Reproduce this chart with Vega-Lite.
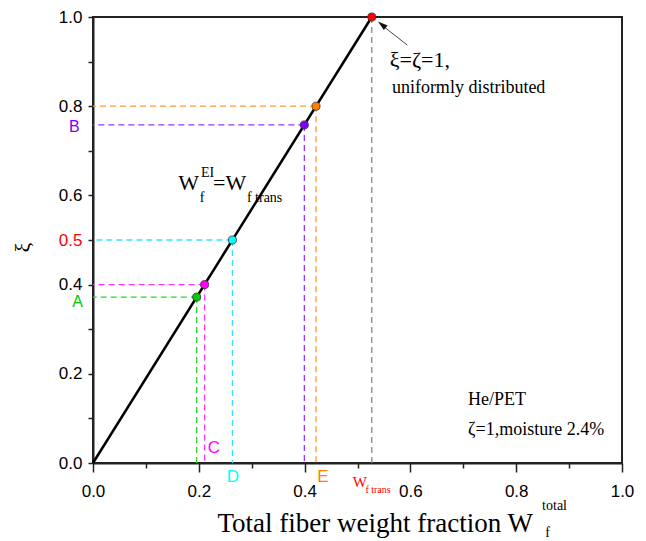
{
  "$schema": "https://vega.github.io/schema/vega-lite/v6.json",
  "width": 529,
  "height": 446,
  "autosize": "none",
  "padding": {"left": 93, "top": 17, "right": 24, "bottom": 78},
  "background": "white",
  "config": {
    "view": {"stroke": "#222", "strokeWidth": 2},
    "axis": {
      "grid": false,
      "domainColor": "#222",
      "domainWidth": 2,
      "tickColor": "#222",
      "tickWidth": 1.5,
      "labelFont": "Liberation Sans",
      "labelFontSize": 17,
      "labelColor": "black",
      "titleFont": "Liberation Serif",
      "titleFontWeight": "normal",
      "titleColor": "black"
    }
  },
  "encoding": {
    "x": {
      "field": "x",
      "type": "quantitative",
      "scale": {"domain": [0, 1], "nice": false, "zero": false},
      "axis": {
        "title": "Total fiber weight fraction W",
        "titleFontSize": 27,
        "titleX": 124,
        "titleY": 68,
        "titleAlign": "left",
        "titleBaseline": "alphabetic",
        "values": [0, 0.1, 0.2, 0.3, 0.4, 0.5, 0.6, 0.7, 0.8, 0.9, 1],
        "labelExpr": "round(datum.value*10) % 2 == 0 ? format(datum.value, '.1f') : ''",
        "tickSize": {"condition": {"test": "round(datum.value*10) % 2 == 0", "value": 9}, "value": 5},
        "labelPadding": 11,
        "labelFlush": false
      }
    },
    "y": {
      "field": "y",
      "type": "quantitative",
      "scale": {"domain": [0, 1], "nice": false, "zero": false},
      "axis": {
        "title": "ξ",
        "titleFontSize": 22,
        "titleX": -71,
        "titleY": 230,
        "titleAngle": 270,
        "titleAlign": "center",
        "titleBaseline": "middle",
        "values": [0, 0.1, 0.2, 0.3, 0.4, 0.5, 0.6, 0.7, 0.8, 0.9, 1],
        "labelExpr": "indexof([0,2,4,5,6,8,10], round(datum.value*10)) >= 0 ? format(datum.value, '.1f') : ''",
        "labelColor": {"condition": {"test": "round(datum.value*10) == 5", "value": "#ff0000"}, "value": "black"},
        "tickSize": 5,
        "labelPadding": 6,
        "labelFlush": false
      }
    }
  },
  "datasets": {
    "pts": [
      {"pt": "A", "x": 0.196, "y": 0.372},
      {"pt": "C", "x": 0.211, "y": 0.4},
      {"pt": "D", "x": 0.2635, "y": 0.5},
      {"pt": "B", "x": 0.3995, "y": 0.758},
      {"pt": "E", "x": 0.4216, "y": 0.8},
      {"pt": "R", "x": 0.527, "y": 1.0}
    ]
  },
  "layer": [
    {
      "data": {"name": "pts"},
      "transform": [{"filter": "datum.pt != 'R'"}],
      "mark": {"type": "rule", "strokeDash": [6, 4], "strokeWidth": 1.3},
      "encoding": {
        "x2": {"datum": 0},
        "stroke": {"field": "pt", "type": "nominal", "legend": null,
          "scale": {"domain": ["A", "C", "D", "B", "E", "R"], "range": ["#22dd22", "#ff33ff", "#33e5ff", "#9933ff", "#ff9933", "#888888"]}}
      }
    },
    {
      "data": {"name": "pts"},
      "mark": {"type": "rule", "strokeDash": [6, 4], "strokeWidth": 1.3},
      "encoding": {
        "y2": {"datum": 0},
        "stroke": {"field": "pt", "type": "nominal", "legend": null,
          "scale": {"domain": ["A", "C", "D", "B", "E", "R"], "range": ["#22dd22", "#ff33ff", "#33e5ff", "#9933ff", "#ff9933", "#888888"]}}
      }
    },
    {
      "data": {"values": [{"x": 0, "y": 0}, {"x": 0.527, "y": 1.0}]},
      "mark": {"type": "line", "color": "black", "strokeWidth": 2.5},
      "encoding": {}
    },
    {
      "data": {"values": [{"x": 0.594, "y": 0.937, "x2": 0.546, "y2": 0.982}]},
      "mark": {"type": "rule", "color": "#444", "strokeWidth": 1},
      "encoding": {"x2": {"field": "x2"}, "y2": {"field": "y2"}}
    },
    {
      "data": {"values": [{"x": 0.546, "y": 0.983}]},
      "mark": {"type": "point", "shape": "M0,-1L0.6,1L-0.6,1Z", "filled": true, "color": "#111", "size": 100, "angle": -51, "opacity": 1},
      "encoding": {}
    },
    {
      "data": {"name": "pts"},
      "mark": {"type": "point", "filled": true, "size": 65, "stroke": "#333", "strokeWidth": 0.8, "opacity": 1},
      "encoding": {
        "fill": {"field": "pt", "type": "nominal", "legend": null,
          "scale": {"domain": ["A", "C", "D", "B", "E", "R"], "range": ["#00cc00", "#ff00ff", "#00ffff", "#7f00ff", "#ff8000", "#ff0000"]}}
      }
    },
    {
      "data": {"values": [
        {"x": 0.561, "y": 0.888, "text": "ξ=ζ=1,"},
        {"x": 0.161, "y": 0.612, "text": "W"},
        {"x": 0.227, "y": 0.612, "text": "=W"}
      ]},
      "mark": {"type": "text", "font": "Liberation Serif", "fontSize": 22, "align": "left", "baseline": "alphabetic", "color": "black"},
      "encoding": {"text": {"field": "text"}}
    },
    {
      "data": {"values": [
        {"x": 0.565, "y": 0.83, "text": "uniformly distributed"},
        {"x": 0.709, "y": 0.13, "text": "He/PET"},
        {"x": 0.709, "y": 0.063, "text": "ζ=1,moisture 2.4%"}
      ]},
      "mark": {"type": "text", "font": "Liberation Serif", "fontSize": 18, "align": "left", "baseline": "alphabetic", "color": "black"},
      "encoding": {"text": {"field": "text"}}
    },
    {
      "data": {"values": [
        {"x": 0.202, "y": 0.585, "text": "f"},
        {"x": 0.204, "y": 0.641, "text": "EI"},
        {"x": 0.291, "y": 0.585, "text": "f trans"},
        {"x": 0.849, "y": -0.105, "text": "total"},
        {"x": 0.855, "y": -0.166, "text": "f"}
      ]},
      "mark": {"type": "text", "font": "Liberation Serif", "fontSize": 14, "align": "left", "baseline": "alphabetic", "color": "black"},
      "encoding": {"text": {"field": "text"}}
    },
    {
      "data": {"values": [{"x": 0.491, "y": -0.054, "text": "W"}]},
      "mark": {"type": "text", "font": "Liberation Serif", "fontSize": 15, "align": "left", "baseline": "alphabetic", "color": "#ff0000"},
      "encoding": {"text": {"field": "text"}}
    },
    {
      "data": {"values": [{"x": 0.515, "y": -0.067, "text": "f trans"}]},
      "mark": {"type": "text", "font": "Liberation Serif", "fontSize": 10, "align": "left", "baseline": "alphabetic", "color": "#ff0000"},
      "encoding": {"text": {"field": "text"}}
    },
    {
      "data": {"values": [
        {"x": -0.019, "y": 0.361, "text": "A"},
        {"x": -0.025, "y": 0.753, "text": "B"}
      ]},
      "mark": {"type": "text", "font": "Liberation Sans", "fontSize": 16, "align": "right", "baseline": "middle"},
      "encoding": {
        "text": {"field": "text"},
        "fill": {"field": "text", "type": "nominal", "legend": null,
          "scale": {"domain": ["A", "B"], "range": ["#00cc00", "#8000ff"]}}
      }
    },
    {
      "data": {"values": [
        {"x": 0.217, "y": 0.034, "text": "C"},
        {"x": 0.253, "y": -0.031, "text": "D"},
        {"x": 0.424, "y": -0.031, "text": "E"}
      ]},
      "mark": {"type": "text", "font": "Liberation Sans", "fontSize": 17, "align": "left", "baseline": "middle"},
      "encoding": {
        "text": {"field": "text"},
        "fill": {"field": "text", "type": "nominal", "legend": null,
          "scale": {"domain": ["C", "D", "E"], "range": ["#ff00ff", "#4d7cff", "#ff8000"]}}
      }
    }
  ]
}
